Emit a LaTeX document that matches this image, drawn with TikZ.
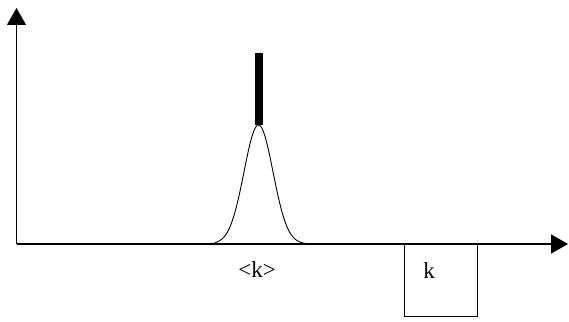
\documentclass[tikz,border=0pt]{standalone}
\usepackage{fontspec}
\setmainfont{Liberation Serif}
\usepackage{tikz}
\usetikzlibrary{positioning, arrows.meta, calc}

\begin{document}
\begin{tikzpicture}[x=1pt, y=-1pt,
    axis/.style={line width=1.4pt, -{Triangle[length=17pt, width=19pt]}},
    lbl/.style={font=\fontsize{23}{27}\selectfont, inner sep=0pt}]
  \useasboundingbox (0,0) rectangle (569,321);
  \coordinate (origin) at (16.5,244);
  \coordinate (ytip) at (16.5,8);
  \coordinate (xtip) at (568,244);
  \draw[axis] (origin) -- (ytip);
  \draw[axis] (origin) -- (xtip);
  \draw[line width=0.9pt] plot[domain=-44:47, samples=80, smooth]
    ({258.5+\x}, {244-119*exp(-(\x*\x)/(2*14.5*14.5))});
  \fill (212,243.5) circle (1.2pt);
  \coordinate (peak) at (258.5,125);
  \coordinate (bartop) at (258.5,53);
  \draw[line width=8pt] (peak) -- (bartop);
  \node[lbl] (mean) at (257,270) {<k>};
  \node[draw, line width=1.4pt, minimum width=73pt, minimum height=72pt,
        anchor=north west, inner sep=0pt] (kbox) at (403.5,244) {};
  \node[lbl] (klbl) at (429,271) {k};
\end{tikzpicture}
\end{document}
